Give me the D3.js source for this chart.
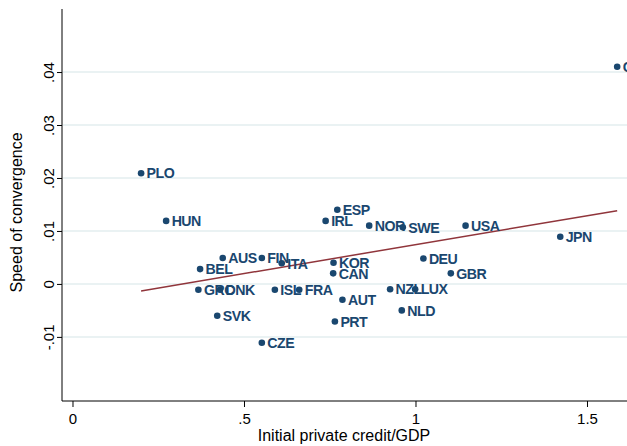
<!DOCTYPE html>
<html>
<head>
<meta charset="utf-8">
<script src="https://cdn.jsdelivr.net/npm/d3@7"></script>
<style>
  html, body { margin: 0; padding: 0; background: #fff; overflow: hidden; }
  svg { display: block; font-family: "Liberation Sans", Arial, Helvetica, sans-serif; }
</style>
</head>
<body>
<svg id="chart" width="627" height="446"></svg>
<script>
// Country codes, initial private credit/GDP and speed of convergence
const countries = ["PLO","HUN","AUS","FIN","ITA","BEL","GRC","DNK","ISL","FRA","SVK","CZE",
                   "KOR","CAN","AUT","PRT","ESP","IRL","NOR","SWE","USA","DEU","GBR","NZL",
                   "LUX","NLD","JPN","CHE"];
const credit = [0.200,0.273,0.438,0.552,0.610,0.372,0.367,0.430,0.590,0.661,0.422,0.552,
                0.761,0.760,0.787,0.765,0.772,0.738,0.865,0.963,1.146,1.023,1.103,0.926,
                0.999,0.960,1.422,1.588];
const convergence = [0.0209,0.0119,0.0049,0.0049,0.0039,0.0028,-0.0011,-0.0011,-0.0011,-0.0011,-0.0060,-0.0111,
                     0.0040,0.0020,-0.0030,-0.0071,0.0140,0.0119,0.0110,0.0107,0.0110,0.0048,0.0020,-0.0010,
                     -0.0010,-0.0050,0.0089,0.0410];

// Linear fit: convergence = fitIntercept + fitSlope * credit
const fitIntercept = -0.0035;
const fitSlope = 0.01091;

const xTicks = [0, 0.5, 1, 1.5];
const xTickLabels = ["0", ".5", "1", "1.5"];
const yTicks = [-0.01, 0, 0.01, 0.02, 0.03, 0.04];
const yTickLabels = ["-.01", "0", ".01", ".02", ".03", ".04"];

const navy = "#1a476f";
const maroon = "#90353b";
const gridColor = "#eaf2f3";

const svg = d3.select("#chart");

const plotLeft = 62, plotTop = 9, plotBottom = 401;
const x = d3.scaleLinear().domain([-0.0306, 1.75]).range([plotLeft, plotLeft + 1.7806 * 343]);
const y = d3.scaleLinear().domain([-0.0221, 0.0519]).range([plotBottom, plotTop]);

// Horizontal grid lines
svg.append("g")
  .selectAll("line")
  .data(yTicks)
  .join("line")
  .attr("x1", plotLeft + 1)
  .attr("x2", 640)
  .attr("y1", d => y(d))
  .attr("y2", d => y(d))
  .attr("stroke", gridColor)
  .attr("stroke-width", 2);

// Y axis
const yAxis = d3.axisLeft(y)
  .tickValues(yTicks)
  .tickFormat((d, i) => yTickLabels[i])
  .tickSize(5)
  .tickPadding(5);
const gy = svg.append("g").attr("transform", `translate(${plotLeft},0)`).call(yAxis);
gy.select(".domain").attr("d", `M0,${plotTop}V${plotBottom}`).attr("stroke", "#000");
gy.selectAll(".tick line").attr("stroke", "#000");
gy.selectAll(".tick text")
  .attr("font-size", 15)
  .attr("fill", "#000")
  .attr("text-anchor", "middle")
  .attr("x", 0)
  .attr("y", 0)
  .attr("dy", 0)
  .attr("transform", "translate(-8,0) rotate(-90)");

// X axis
const xAxis = d3.axisBottom(x)
  .tickValues(xTicks)
  .tickFormat((d, i) => xTickLabels[i])
  .tickSize(6)
  .tickPadding(6);
const gx = svg.append("g").attr("transform", `translate(0,${plotBottom})`).call(xAxis);
gx.select(".domain").attr("d", `M${plotLeft},0H640`).attr("stroke", "#000");
gx.selectAll(".tick line").attr("stroke", "#000");
gx.selectAll(".tick text").attr("font-size", 15).attr("fill", "#000");

// Axis titles
svg.append("text")
  .attr("x", 344)
  .attr("y", 441)
  .attr("text-anchor", "middle")
  .attr("font-size", 16)
  .attr("fill", "#000")
  .text("Initial private credit/GDP");

svg.append("text")
  .attr("transform", `translate(22,${y(0.0135)}) rotate(-90)`)
  .attr("text-anchor", "middle")
  .attr("font-size", 16)
  .attr("fill", "#000")
  .text("Speed of convergence");

// Fitted line across the range of the data
const xMin = d3.min(credit), xMax = d3.max(credit);
svg.append("line")
  .attr("x1", x(xMin))
  .attr("x2", x(xMax))
  .attr("y1", y(fitIntercept + fitSlope * xMin))
  .attr("y2", y(fitIntercept + fitSlope * xMax))
  .attr("stroke", maroon)
  .attr("stroke-width", 1.5);

// Points and country labels
const idx = d3.range(countries.length);
svg.append("g")
  .selectAll("circle")
  .data(idx)
  .join("circle")
  .attr("cx", i => x(credit[i]))
  .attr("cy", i => y(convergence[i]))
  .attr("r", 3.3)
  .attr("fill", navy);

svg.append("g")
  .selectAll("text")
  .data(idx)
  .join("text")
  .attr("x", i => x(credit[i]) + 5.5)
  .attr("y", i => y(convergence[i]))
  .attr("dy", "0.37em")
  .attr("font-size", 14.2)
  .attr("font-weight", "bold")
  .attr("letter-spacing", -0.5)
  .attr("fill", navy)
  .text(i => countries[i]);
</script>
</body>
</html>
